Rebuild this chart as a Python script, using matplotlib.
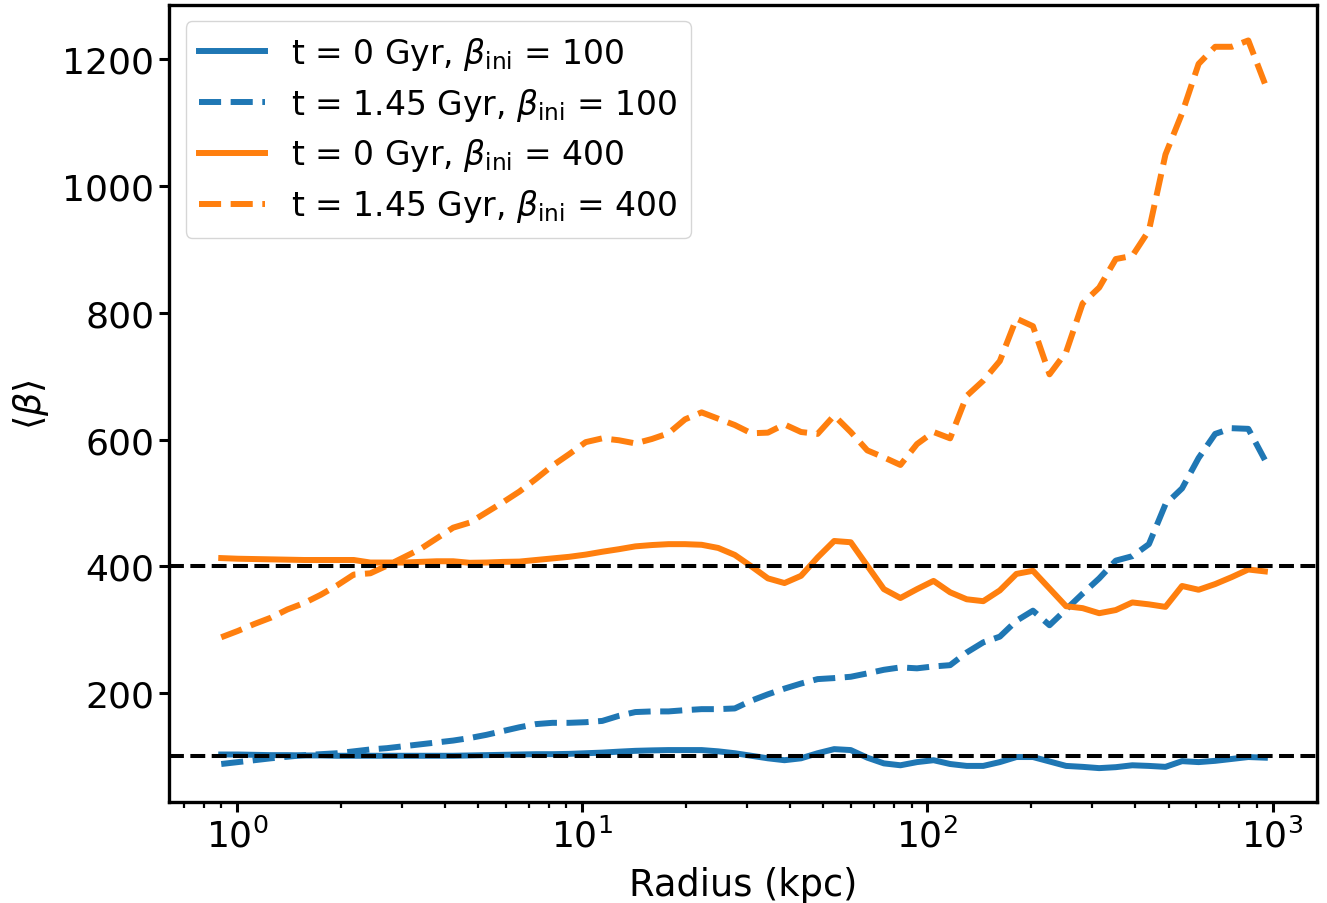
import numpy as np
import matplotlib
matplotlib.use("Agg")
import matplotlib.pyplot as plt

# radial bins (log-spaced, 64 bins between ~0.9 and ~950 kpc)
radius = np.geomspace(0.9, 950, 64)

# <beta> profiles
beta100_t0 = [103, 103, 102.5, 102, 102, 101.5, 101.5, 101, 101, 101,
              101, 101, 101, 101, 101, 101.5, 102, 102.5, 103, 103.5,
              103.5, 104, 105, 106, 107.5, 108.8, 109.5, 110, 110, 110,
              108, 105, 101, 97, 94, 97, 105, 111.5, 110, 98,
              89, 86, 91, 94, 88, 85, 85, 91, 99, 99,
              92, 85, 83.5, 81.5, 83, 86, 85, 83.5, 92.5, 91,
              93, 96, 99, 98]

beta100_t145 = [88, 91, 94, 97, 99.5, 102, 103.5, 105, 108, 111,
                113, 116, 119, 122, 125, 129, 134, 140, 146, 151,
                153, 153, 154, 156, 164, 170, 171, 171, 173, 174.6,
                174.6, 175.7, 188, 198, 207, 215, 222, 223.6, 225.7, 231,
                236.7, 240.5, 239, 242, 244, 264, 280, 289, 314, 330,
                307, 332, 357, 381, 409, 416, 435, 498, 523, 571,
                609, 618, 617, 568]

beta400_t0 = [413, 412, 411.5, 411, 410.5, 410, 410, 410, 410, 406,
              406, 406, 407, 408, 408, 405.6, 406, 407, 407.5, 410,
              412.5, 415, 418.5, 423, 427, 431.5, 433.6, 435, 435, 434,
              429, 418, 400, 381, 373.6, 385, 414, 440, 438, 401,
              364, 350, 364, 377, 359, 348, 345, 362, 388, 393,
              365, 337, 334, 326, 331, 343, 340, 336, 369, 363,
              372, 383, 395, 392]

beta400_t145 = [288, 298, 309, 319, 332, 342, 355, 370, 387, 389,
                401, 414, 427, 444, 461, 469, 485, 501, 518, 538,
                559, 577, 596, 602, 599, 594, 601, 610, 632, 643,
                633, 623, 610, 611, 624, 612, 609, 638, 612, 583,
                572, 560, 593, 612, 602, 669, 693, 724, 791, 779,
                703, 738, 815, 840, 885, 890, 930, 1050, 1115, 1193,
                1220, 1220, 1230, 1162]

beta_ini = [100, 400]

plt.rcParams['font.size'] = 26

fig = plt.figure(figsize=(13.27, 9.04), dpi=100)
ax = fig.add_axes([0.1274, 0.1117, 0.8651, 0.8817])

ax.plot(radius, beta100_t0, color='tab:blue', ls='-', lw=4.3,
        label=r't = 0 Gyr, $\beta_{\rm ini}$ = 100')
ax.plot(radius, beta100_t145, color='tab:blue', ls='--', lw=4.3,
        label=r't = 1.45 Gyr, $\beta_{\rm ini}$ = 100')
ax.plot(radius, beta400_t0, color='tab:orange', ls='-', lw=4.3,
        label=r't = 0 Gyr, $\beta_{\rm ini}$ = 400')
ax.plot(radius, beta400_t145, color='tab:orange', ls='--', lw=4.3,
        label=r't = 1.45 Gyr, $\beta_{\rm ini}$ = 400')

# initial beta reference lines
for b in beta_ini:
    ax.axhline(b, color='k', ls='--', lw=2.9)

ax.set_xscale('log')
ax.set_ylim(28, 1286)
ax.set_xlabel('Radius (kpc)', fontsize=26.5, labelpad=9)
ax.set_ylabel(r'$\langle \beta \rangle$', fontsize=26.5, labelpad=8)

for s in ax.spines.values():
    s.set_linewidth(2.4)
ax.tick_params(which='major', length=7.2, width=2.2, labelsize=26)
ax.tick_params(which='minor', length=4.3, width=1.6)

ax.legend(loc='upper left', fontsize=23.8, labelspacing=0.42)

fig.savefig('out.png', dpi=100)
